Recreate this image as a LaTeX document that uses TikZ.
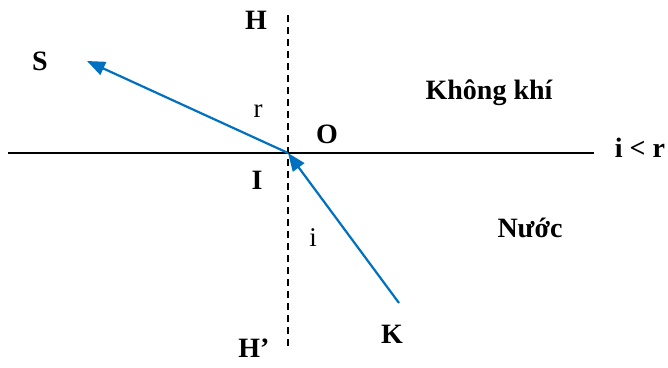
\documentclass[tikz,border=0pt]{standalone}
\usepackage{fontspec}
\setmainfont{Liberation Serif}
\usepackage{xcolor}
\usetikzlibrary{arrows.meta,positioning,calc}
\definecolor{raycol}{RGB}{0,112,192}

\begin{document}
\begin{tikzpicture}[x=1pt,y=-1pt,
  lbl/.style={font=\fontsize{28}{32}\selectfont\bfseries,inner sep=0pt,anchor=base},
  anglbl/.style={font=\fontsize{27}{32}\selectfont,inner sep=0pt,anchor=base},
  ray/.style={draw=raycol,line width=2.2pt,-{Triangle[length=18pt,width=14pt]}}]
  \useasboundingbox (0,0) rectangle (668,367);
  % mat phan cach va phap tuyen
  \coordinate (L) at (8,153);
  \coordinate (R) at (594,153);
  \coordinate (Htop) at (288,15);
  \coordinate (Hbot) at (288,346);
  \coordinate (O) at (288,153);
  \coordinate (Kend) at (399,303);
  \coordinate (Send) at (87,61);
  \draw[line width=1.7pt] (L) -- (R);
  \draw[line width=1.3pt,dash pattern=on 7pt off 5pt] (Htop) -- (Hbot);
  % tia toi va tia khuc xa
  \draw[ray] (Kend) -- (O);
  \draw[ray] (O) -- (Send);
  % nhan
  \node[lbl] (H) at (256,29) {H};
  \node[lbl] (S) at (40,70) {S};
  \node[anglbl] (r) at (258,117) {r};
  \node[lbl] (Olbl) at (327,143) {O};
  \node[lbl] (air) at (489,99) {Không khí};
  \node[lbl] (cmp) at (640,157) {i < r};
  \node[lbl] (I) at (257,189) {I};
  \node[anglbl] (i) at (313,246) {i};
  \node[lbl] (water) at (530,237) {Nước};
  \node[lbl] (H2) at (254,357) {H’};
  \node[lbl] (K) at (392,343) {K};
\end{tikzpicture}
\end{document}
